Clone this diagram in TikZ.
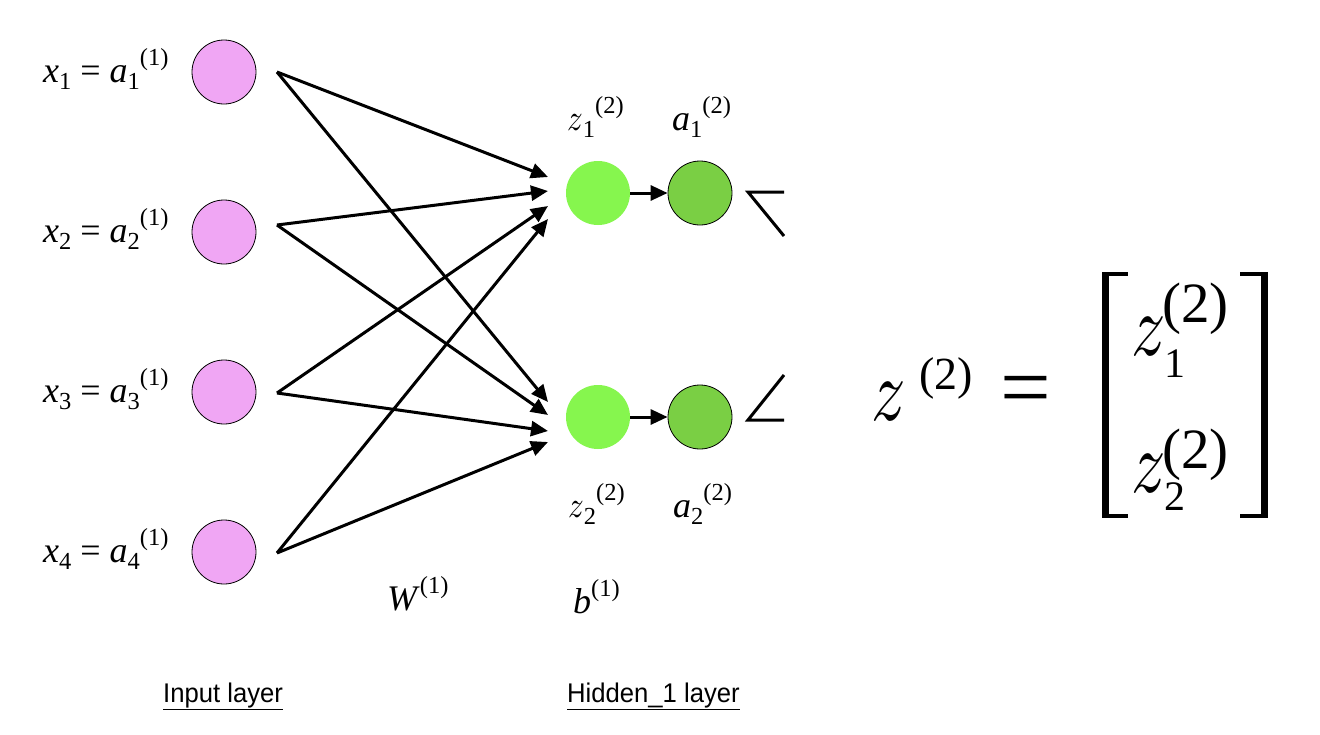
\documentclass[tikz,border=0pt]{standalone}
\usepackage{graphicx}
\usepackage{fontspec}
\setmainfont{Liberation Serif}
\newfontfamily\arialf{Liberation Sans}
\usetikzlibrary{arrows.meta}
\definecolor{pinkc}{RGB}{240,166,244}
\definecolor{zgreen}{RGB}{134,246,78}
\definecolor{agreen}{RGB}{122,207,68}
\newcommand\lo[1]{\raisebox{-0.22em}{\scalebox{0.68}{#1}}}
\newcommand\hi[1]{\raisebox{0.45em}{\scalebox{0.68}{#1}}}
\newcommand\smz{{\normalsize\scalebox{3.1}[3.7]{$z$}}}
\newcommand\bigz{{\normalsize\scalebox{6.8}[8.8]{$z$}}}
\begin{document}
\begin{tikzpicture}[x=1pt,y=-1pt,
  inp/.style={circle,minimum size=64pt,inner sep=0pt,fill=pinkc,draw=black,line width=0.8pt},
  zn/.style={circle,minimum size=64pt,inner sep=0pt,fill=zgreen},
  an/.style={circle,minimum size=64pt,inner sep=0pt,fill=agreen,draw=black,line width=0.8pt},
  conn/.style={line width=3pt,-{Triangle[length=17pt,width=15pt]}},
  plainline/.style={line width=3pt},
  lbl/.style={anchor=base west,inner sep=0pt,font=\fontsize{36}{40}\selectfont},
  captext/.style={anchor=base west,inner sep=0pt,font=\fontsize{27}{32}\selectfont\arialf},
  brk/.style={fill=black,draw=none}]
\useasboundingbox (0,0) rectangle (1320,734);
\fill[white] (0,0) rectangle (1320,734);

% input layer
\node[inp] (i1) at (224,72) {};
\node[inp] (i2) at (224,232) {};
\node[inp] (i3) at (224,392) {};
\node[inp] (i4) at (224,552) {};
\node[lbl] (l1) at (43,82) {\textit{x}\lo{1} = \textit{a}\lo{1}\hi{(1)}};
\node[lbl] (l2) at (43,242) {\textit{x}\lo{2} = \textit{a}\lo{2}\hi{(1)}};
\node[lbl] (l3) at (43,402) {\textit{x}\lo{3} = \textit{a}\lo{3}\hi{(1)}};
\node[lbl] (l4) at (43,562) {\textit{x}\lo{4} = \textit{a}\lo{4}\hi{(1)}};

% hidden layer
\node[zn] (z1) at (598,193) {};
\node[an] (a1) at (700,193) {};
\node[zn] (z2) at (598,417) {};
\node[an] (a2) at (700,417) {};
\node[lbl] (lz1) at (567,130) {\smz\lo{1}\hi{(2)}};
\node[lbl] (la1) at (672,130) {\textit{a}\lo{1}\hi{(2)}};
\node[lbl] (lz2) at (568,517) {\smz\lo{2}\hi{(2)}};
\node[lbl] (la2) at (673,517) {\textit{a}\lo{2}\hi{(2)}};
\node[lbl] (lw) at (387,610) {\textit{W}\hi{(1)}};
\node[lbl] (lb) at (573,613) {\textit{b}\hi{(1)}};

% start / end coordinates
\coordinate (s1) at (277,72);
\coordinate (s2) at (277,225);
\coordinate (s3) at (277,393);
\coordinate (s4) at (277,553);
\coordinate (e11) at (548,177);
\coordinate (e21) at (548,191);
\coordinate (e31) at (548,206);
\coordinate (e41) at (548,219);
\coordinate (e12) at (548,402);
\coordinate (e22) at (548,415);
\coordinate (e32) at (548,431);
\coordinate (e42) at (548,442);
\draw[conn] (s1) -- (e11);
\draw[conn] (s1) -- (e12);
\draw[conn] (s2) -- (e21);
\draw[conn] (s2) -- (e22);
\draw[conn] (s3) -- (e31);
\draw[conn] (s3) -- (e32);
\draw[conn] (s4) -- (e41);
\draw[conn] (s4) -- (e42);
\draw[conn] (z1.east) -- (a1.west);
\draw[conn] (z2.east) -- (a2.west);

% clipped outgoing lines
\coordinate (c1) at (748,192);
\coordinate (c1a) at (784,192);
\coordinate (c1b) at (784,236);
\coordinate (c2) at (748,420);
\coordinate (c2a) at (784,420);
\coordinate (c2b) at (784,375);
\draw[plainline] (c1a) -- (c1) -- (c1b);
\draw[plainline] (c2a) -- (c2) -- (c2b);

% captions
\node[captext] (cin) at (163,702) {\scalebox{0.95}[1]{\underline{Input layer}}};
\node[captext] (chid) at (567,702) {\scalebox{0.95}[1]{\underline{Hidden\_1 layer}}};

% equation
\node[anchor=base west,inner sep=0pt] (bz) at (871,420) {\bigz};
\node[anchor=base west,inner sep=0pt,font=\fontsize{46}{50}\selectfont] (bzs) at (919,389) {(2)};
\node[inner sep=0pt,font=\fontsize{90}{90}\selectfont] (eq) at (1026,397) {=};
\fill[brk] (1102,272) rectangle (1109,518);
\fill[brk] (1102,272) rectangle (1128,276);
\fill[brk] (1102,514) rectangle (1128,518);
\fill[brk] (1261,272) rectangle (1268,518);
\fill[brk] (1240,272) rectangle (1268,276);
\fill[brk] (1240,514) rectangle (1268,518);
\node[anchor=base west,inner sep=0pt] (m1) at (1131,355) {\bigz};
\node[anchor=base west,inner sep=0pt,font=\fontsize{42}{46}\selectfont] (m1s) at (1164,377) {1};
\node[anchor=base west,inner sep=0pt,font=\fontsize{57}{60}\selectfont] (m1p) at (1162,322) {(2)};
\node[anchor=base west,inner sep=0pt] (m2) at (1131,492) {\bigz};
\node[anchor=base west,inner sep=0pt,font=\fontsize{42}{46}\selectfont] (m2s) at (1164,510) {2};
\node[anchor=base west,inner sep=0pt,font=\fontsize{57}{60}\selectfont] (m2p) at (1162,468) {(2)};
\end{tikzpicture}
\end{document}
